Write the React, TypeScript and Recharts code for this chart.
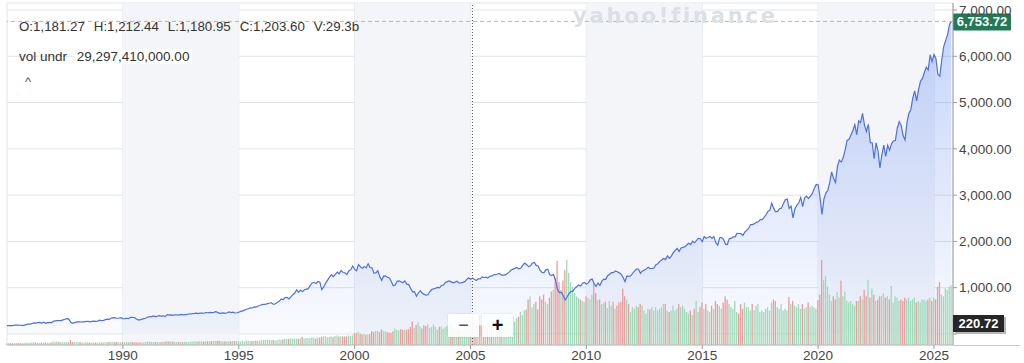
import React from 'react'
import {
  ComposedChart, Area, Bar, Line, XAxis, YAxis, CartesianGrid,
  ReferenceArea, ReferenceLine, Cell,
} from 'recharts'

// monthly closes, Jan 1985 .. Oct 2025
const closes1985_1994 = [
  179.63, 181.18, 180.66, 179.83, 189.55, 191.85, 190.92, 188.63, 182.08, 189.82, 202.17, 211.28,
  211.78, 226.92, 238.9, 235.52, 247.35, 250.84, 236.12, 252.93, 231.32, 243.98, 249.22, 242.17,
  274.08, 284.2, 291.7, 288.36, 290.1, 304.0, 318.66, 329.8, 321.83, 251.79, 230.3, 247.08,
  257.07, 267.82, 258.89, 261.33, 262.16, 273.5, 272.02, 261.52, 271.91, 278.97, 273.7, 277.72,
  297.47, 288.86, 294.87, 309.64, 320.52, 317.98, 346.08, 351.45, 349.15, 340.36, 345.99, 353.4,
  329.08, 331.89, 339.94, 330.8, 361.23, 358.02, 356.15, 322.56, 306.05, 304.0, 322.22, 330.22,
  343.93, 367.07, 375.22, 375.34, 389.83, 371.16, 387.81, 395.43, 387.86, 392.46, 375.22, 417.09,
  408.79, 412.7, 403.69, 414.95, 415.35, 408.14, 424.21, 414.03, 417.8, 418.68, 431.35, 435.71,
  438.78, 443.38, 451.67, 440.19, 450.19, 450.53, 448.13, 463.56, 458.93, 467.83, 461.79, 466.45,
  481.61, 467.14, 445.77, 450.91, 456.5, 444.27, 458.26, 475.49, 462.69, 472.35, 453.69, 459.27,
]
const closes1995_2004 = [
  470.42, 487.39, 500.71, 514.71, 533.4, 544.75, 562.06, 561.88, 584.41, 581.5, 605.37, 615.93,
  636.02, 640.43, 645.5, 654.17, 669.12, 670.63, 639.95, 651.99, 687.33, 705.27, 757.02, 740.74,
  786.16, 790.82, 757.12, 801.34, 848.28, 885.14, 954.31, 899.47, 947.28, 914.62, 955.4, 970.43,
  980.28, 1049.34, 1101.75, 1111.75, 1090.82, 1133.84, 1120.67, 957.28, 1017.01, 1098.67, 1163.63, 1229.23,
  1279.64, 1238.33, 1286.37, 1335.18, 1301.84, 1372.71, 1328.72, 1320.41, 1282.71, 1362.93, 1388.91, 1469.25,
  1394.46, 1366.42, 1498.58, 1452.43, 1420.6, 1454.6, 1430.83, 1517.68, 1436.51, 1429.4, 1314.95, 1320.28,
  1366.01, 1239.94, 1160.33, 1249.46, 1255.82, 1224.42, 1211.23, 1133.58, 1040.94, 1059.78, 1139.45, 1148.08,
  1130.2, 1106.73, 1147.39, 1076.92, 1067.14, 989.82, 911.62, 916.07, 815.28, 885.76, 936.31, 879.82,
  855.7, 841.15, 848.18, 916.92, 963.59, 974.5, 990.31, 1008.01, 995.97, 1050.71, 1058.2, 1111.92,
  1131.13, 1144.94, 1126.21, 1107.3, 1120.68, 1140.84, 1101.72, 1104.24, 1114.58, 1130.2, 1173.82, 1211.92,
]
const closes2005_2014 = [
  1181.27, 1203.6, 1180.59, 1156.85, 1191.5, 1191.33, 1234.18, 1220.33, 1228.81, 1207.01, 1249.48, 1248.29,
  1280.08, 1280.66, 1294.83, 1310.61, 1270.09, 1270.2, 1276.66, 1303.82, 1335.85, 1377.94, 1400.63, 1418.3,
  1438.24, 1406.82, 1420.86, 1482.37, 1530.62, 1503.35, 1455.27, 1473.99, 1526.75, 1549.38, 1481.14, 1468.36,
  1378.55, 1330.63, 1322.7, 1385.59, 1400.38, 1280.0, 1267.38, 1282.83, 1166.36, 968.75, 896.24, 903.25,
  825.88, 735.09, 797.87, 872.81, 919.14, 919.32, 987.48, 1020.62, 1057.08, 1036.19, 1095.63, 1115.1,
  1073.87, 1104.49, 1169.43, 1186.69, 1089.41, 1030.71, 1101.6, 1049.33, 1141.2, 1183.26, 1180.55, 1257.64,
  1286.12, 1327.22, 1325.83, 1363.61, 1345.2, 1320.64, 1292.28, 1218.89, 1131.42, 1253.3, 1246.96, 1257.6,
  1312.41, 1365.68, 1408.47, 1397.91, 1310.33, 1362.16, 1379.32, 1406.58, 1440.67, 1412.16, 1416.18, 1426.19,
  1498.11, 1514.68, 1569.19, 1597.57, 1630.74, 1606.28, 1685.73, 1632.97, 1681.55, 1756.54, 1805.81, 1848.36,
  1782.59, 1859.45, 1872.34, 1883.95, 1923.57, 1960.23, 1930.67, 2003.37, 1972.29, 2018.05, 2067.56, 2058.9,
]
const closes2015_2025 = [
  1994.99, 2104.5, 2067.89, 2085.51, 2107.39, 2063.11, 2103.84, 1972.18, 1920.03, 2079.36, 2080.41, 2043.94,
  1940.24, 1932.23, 2059.74, 2065.3, 2096.95, 2098.86, 2173.6, 2170.95, 2168.27, 2126.15, 2198.81, 2238.83,
  2278.87, 2363.64, 2362.72, 2384.2, 2411.8, 2423.41, 2470.3, 2471.65, 2519.36, 2575.26, 2647.58, 2673.61,
  2823.81, 2713.83, 2640.87, 2648.05, 2705.27, 2718.37, 2816.29, 2901.52, 2913.98, 2711.74, 2760.17, 2506.85,
  2704.1, 2784.49, 2834.4, 2945.83, 2752.06, 2941.76, 2980.38, 2926.46, 2976.74, 3037.56, 3140.98, 3230.78,
  3225.52, 2954.22, 2584.59, 2912.43, 3044.31, 3100.29, 3271.12, 3500.31, 3363.0, 3269.96, 3621.63, 3756.07,
  3714.24, 3811.15, 3972.89, 4181.17, 4204.11, 4297.5, 4395.26, 4522.68, 4307.54, 4605.38, 4567.0, 4766.18,
  4515.55, 4373.94, 4530.41, 4131.93, 4132.15, 3785.38, 4130.29, 3955.0, 3585.62, 3871.98, 4080.11, 3839.5,
  4076.6, 3970.15, 4109.31, 4169.48, 4179.83, 4450.38, 4588.96, 4507.66, 4288.05, 4193.8, 4567.8, 4769.83,
  4845.65, 5096.27, 5254.35, 5035.69, 5277.51, 5460.48, 5522.3, 5648.4, 5762.48, 5705.45, 6032.38, 5881.63,
  6040.53, 5954.5, 5611.85, 5569.06, 5911.69, 6204.95, 6339.39, 6460.26, 6688.46, 6753.72,
]

// monthly volume, billions
const vol1985_1994 = [
  2.2, 2.6, 2.3, 2.1, 2.5, 2.4, 2.5, 2.1, 2.2, 2.6, 2.8, 3.0,
  3.0, 3.3, 3.4, 3.1, 2.9, 2.8, 2.9, 2.9, 3.3, 2.8, 2.9, 3.2,
  4.0, 4.1, 4.4, 3.9, 3.4, 3.4, 3.5, 3.7, 3.4, 6.3, 3.8, 3.8,
  3.4, 3.5, 3.7, 3.2, 3.0, 3.8, 3.1, 3.1, 3.0, 3.3, 3.1, 3.1,
  3.3, 3.3, 3.6, 3.2, 3.7, 3.7, 3.4, 4.0, 3.4, 4.1, 3.5, 3.4,
  3.7, 3.3, 3.6, 3.1, 3.9, 3.8, 3.6, 3.6, 3.3, 3.6, 3.3, 3.5,
  3.9, 4.4, 4.2, 3.9, 3.7, 3.7, 3.8, 3.6, 3.7, 4.2, 4.2, 4.8,
  4.6, 4.3, 4.1, 4.1, 3.7, 3.9, 4.0, 3.6, 4.0, 4.2, 3.9, 4.1,
  4.5, 4.8, 4.6, 4.5, 4.7, 4.8, 4.5, 4.6, 4.9, 4.8, 5.0, 5.0,
  5.2, 5.0, 5.3, 4.8, 4.6, 4.8, 4.5, 4.9, 4.8, 5.1, 5.0, 4.9,
]
const vol1995_2004 = [
  4.5, 4.3, 5.3, 4.3, 5.6, 5.5, 5.2, 5.0, 5.5, 5.6, 5.8, 5.6,
  6.5, 6.3, 6.5, 7.0, 6.4, 6.0, 6.8, 5.6, 6.4, 7.1, 6.7, 7.1,
  7.9, 7.4, 7.6, 8.4, 7.8, 8.2, 8.1, 7.9, 8.3, 10.2, 8.3, 8.9,
  9.0, 8.5, 9.4, 9.5, 8.3, 9.6, 9.5, 10.4, 10.9, 11.2, 9.8, 10.6,
  10.8, 10.0, 11.5, 12.2, 10.9, 11.0, 10.7, 10.9, 10.8, 12.1, 11.6, 12.3,
  15.0, 15.3, 16.9, 14.7, 13.8, 14.2, 13.3, 13.7, 14.4, 17.5, 16.4, 17.8,
  17.9, 16.3, 19.6, 18.1, 17.5, 16.3, 16.0, 15.5, 17.6, 21.0, 19.1, 18.9,
  20.1, 19.2, 19.0, 19.5, 20.0, 23.0, 30.0, 22.0, 25.4, 28.7, 23.9, 21.0,
  25.0, 24.1, 26.1, 21.9, 22.7, 26.1, 23.2, 19.6, 23.4, 23.4, 20.6, 22.5,
  24.5, 22.6, 26.0, 22.7, 20.8, 20.5, 21.5, 18.7, 19.1, 21.9, 21.5, 21.8,
]
const vol2005_2014 = [
  26.0, 29.3, 28.0, 29.0, 24.7, 25.0, 24.8, 25.5, 25.0, 28.5, 27.0, 25.8,
  31.1, 28.3, 31.9, 27.7, 32.3, 32.3, 27.4, 30.0, 29.3, 35.1, 35.0, 29.3,
  34, 36, 42, 38, 44, 45, 58, 62, 48, 52, 55, 45,
  62, 58, 64, 55, 52, 60, 68, 70, 85, 107, 80, 70,
  82, 95, 108, 92, 80, 74, 66, 62, 60, 58, 56, 55,
  62, 60, 58, 64, 79, 66, 57, 58, 52, 53, 55, 47,
  56, 50, 55, 46, 50, 54, 55, 72, 62, 58, 52, 42,
  48, 46, 50, 48, 52, 50, 44, 40, 46, 45, 48, 44,
  48, 44, 46, 48, 52, 52, 44, 42, 44, 50, 44, 46,
  52, 48, 50, 46, 42, 40, 44, 38, 46, 56, 42, 48,
]
const vol2015_2025 = [
  54, 46, 52, 44, 42, 50, 46, 56, 52, 50, 46, 54,
  62, 58, 52, 48, 46, 56, 42, 40, 52, 46, 54, 48,
  48, 44, 52, 44, 50, 52, 42, 44, 42, 46, 48, 44,
  54, 58, 56, 48, 46, 52, 44, 46, 44, 61, 52, 56,
  50, 48, 52, 46, 52, 46, 48, 54, 48, 50, 48, 46,
  57, 64, 108, 83, 88, 74, 64, 56, 62, 58, 67, 60,
  82, 62, 68, 56, 54, 56, 52, 50, 56, 56, 62, 58,
  70, 62, 83, 60, 72, 64, 56, 58, 62, 62, 66, 60,
  62, 58, 75, 54, 62, 60, 56, 58, 56, 60, 58, 60,
  56, 58, 60, 54, 56, 54, 58, 58, 56, 58, 60, 56,
  60, 58, 74, 80, 64, 62, 72, 70, 74, 76,
]

const startYear = 1985
const yearTicks = [1990, 1995, 2000, 2005, 2010, 2015, 2020, 2025]
const priceTicks = [0, 1000, 2000, 3000, 4000, 5000, 6000, 7000]
const shadedSpans = [[1990, 1995], [2000, 2005], [2010, 2015], [2020, 2025]]
const crosshairT = 2005 + 1 / 12 // Feb 2005

const closes = [...closes1985_1994, ...closes1995_2004, ...closes2005_2014, ...closes2015_2025]
const volumes = [...vol1985_1994, ...vol1995_2004, ...vol2005_2014, ...vol2015_2025]
const lastPrice = closes[closes.length - 1]

const data = closes.map((close, i) => ({
  t: startYear + i / 12,
  close,
  vol: volumes[i],
  up: i === 0 || close >= closes[i - 1],
}))

const fmt2 = (v: number) =>
  v.toLocaleString('en-US', { minimumFractionDigits: 2, maximumFractionDigits: 2 })

const PriceTag = (props: any) => {
  const { viewBox } = props
  if (!viewBox) return null
  const x = viewBox.x + viewBox.width
  const y = viewBox.y
  return (
    <g>
      <rect x={x} y={y - 8} width={58} height={17} fill="#1f7a55" rx={1} />
      <text x={x + 29} y={y + 4.5} textAnchor="middle" fill="#fff" fontSize={13} fontWeight={700}>
        {fmt2(lastPrice)}
      </text>
    </g>
  )
}

const axisText = { fill: '#464646', fontSize: 13.5 }

export default function App() {
  return (
    <div style={{ position: 'absolute', left: 0, top: 0, width: 1024, height: 363, fontFamily: '"Liberation Sans", Arial, sans-serif', background: '#fff' }}>
      <ComposedChart width={1024} height={363} data={data} margin={{ top: 3, right: 0, bottom: 0, left: 7 }}>
        <defs>
          <linearGradient id="areaFill" x1="0" y1="0" x2="0" y2="1">
            <stop offset="0%" stopColor="#3d6ff0" stopOpacity={0.5} />
            <stop offset="100%" stopColor="#3d6ff0" stopOpacity={0.05} />
          </linearGradient>
        </defs>
        {shadedSpans.map(([a, b]) => (
          <ReferenceArea key={a} x1={a} x2={b} fill="#f3f5f9" fillOpacity={1} stroke="none" />
        ))}
        <CartesianGrid stroke="#e2e4e9" />
        <XAxis
          dataKey="t"
          type="number"
          domain={[1985, 2025.82]}
          ticks={yearTicks}
          tickFormatter={(v) => String(v)}
          height={18}
          tickSize={4}
          tickMargin={1}
          tick={axisText}
          axisLine={{ stroke: '#bdbdbd' }}
          tickLine={{ stroke: '#9a9a9a' }}
        />
        <YAxis
          orientation="right"
          width={71}
          domain={[-238, 7151]}
          ticks={priceTicks}
          tickFormatter={(v) => (v === 0 ? '' : fmt2(v))}
          tickSize={4}
          tick={axisText}
          axisLine={{ stroke: '#9a9a9a' }}
          tickLine={{ stroke: '#9a9a9a' }}
        />
        <YAxis yAxisId="vol" hide domain={[0, 435]} />
        <Area dataKey="close" type="linear" stroke="none" fill="url(#areaFill)" isAnimationActive={false} />
        <Bar dataKey="vol" yAxisId="vol" barSize={1.3} isAnimationActive={false}>
          {data.map((d, i) => (
            <Cell key={i} fill={d.up ? '#9fd9b9' : '#ec9a9a'} />
          ))}
        </Bar>
        <Line dataKey="close" type="linear" stroke="#4d70e2" strokeWidth={1.2} dot={false} isAnimationActive={false} />
        <ReferenceLine x={crosshairT} stroke="#555" strokeDasharray="1 2" />
        <ReferenceLine y={lastPrice} stroke="#b5b5b5" strokeDasharray="4 3" label={PriceTag} />
      </ComposedChart>

      <div style={{ position: 'absolute', left: 573, top: 4, fontFamily: '"DejaVu Sans", sans-serif', fontSize: 21, fontWeight: 700, color: '#dcdfe4', letterSpacing: 2.8 }}>
        yahoo!finance
      </div>
      <div style={{ position: 'absolute', left: 19, top: 19, fontSize: 13.3, lineHeight: '16px', color: '#333', whiteSpace: 'nowrap' }}>
        <span style={{ marginRight: 9 }}>O:1,181.27</span>
        <span style={{ marginRight: 9 }}>H:1,212.44</span>
        <span style={{ marginRight: 9 }}>L:1,180.95</span>
        <span style={{ marginRight: 9 }}>C:1,203.60</span>
        <span>V:29.3b</span>
      </div>
      <div style={{ position: 'absolute', left: 19, top: 49, fontSize: 13.5, lineHeight: '16px', color: '#333', whiteSpace: 'nowrap' }}>
        vol undr <span style={{ background: '#fff', padding: '0 3px', marginLeft: 3 }}>29,297,410,000.00</span>
      </div>
      <div style={{ position: 'absolute', left: 25, top: 74, fontSize: 13, color: '#555' }}>^</div>

      <div style={{ position: 'absolute', left: 448, top: 314, width: 31, height: 23, background: 'rgba(255,255,255,0.9)', boxShadow: '0 0 2px rgba(0,0,0,0.12)', textAlign: 'center', fontSize: 18, lineHeight: '23px', color: '#555' }}>−</div>
      <div style={{ position: 'absolute', left: 482, top: 314, width: 31, height: 23, background: 'rgba(255,255,255,0.9)', boxShadow: '0 0 2px rgba(0,0,0,0.12)', textAlign: 'center', fontSize: 20, fontWeight: 700, lineHeight: '23px', color: '#111' }}>+</div>

      <div style={{ position: 'absolute', left: 953, top: 315, width: 51, height: 17, background: '#262626', color: '#fff', fontSize: 13, fontWeight: 700, lineHeight: '17px', textAlign: 'center', boxShadow: '2px 2px 0 #b8b8b8' }}>
        220.72
      </div>
      <div style={{ position: 'absolute', left: 953, top: 345, width: 67, height: 1, background: '#c8c8c8' }} />
    </div>
  )
}
